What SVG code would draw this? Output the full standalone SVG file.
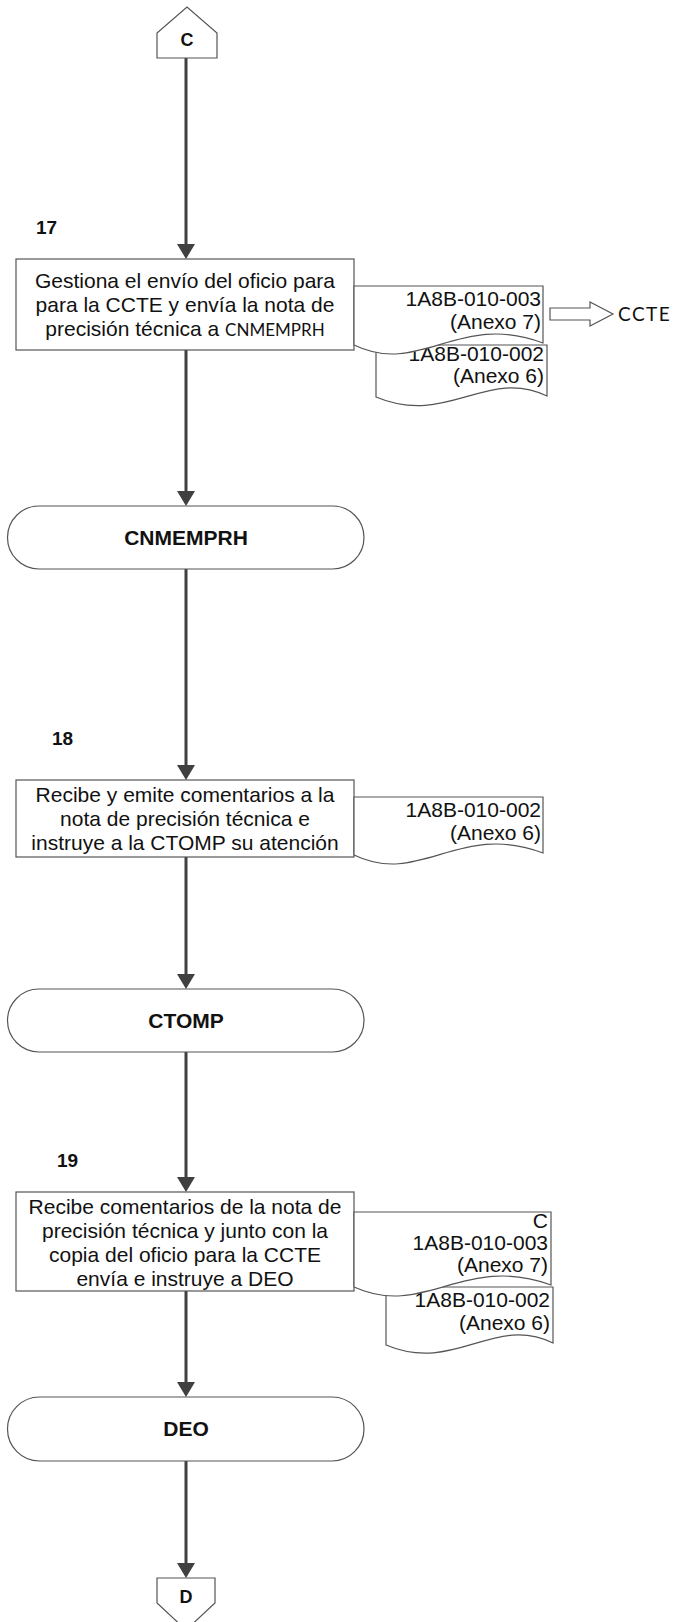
<svg xmlns="http://www.w3.org/2000/svg" width="678" height="1622" viewBox="0 0 678 1622">
  <style>
    .shape { fill: #ffffff; stroke: #555555; stroke-width: 1.2; }
    .flow { fill: none; stroke: #404040; stroke-width: 3; }
    .txt { font-family: "Liberation Sans", Arial, sans-serif; font-size: 21px; fill: #111111; }
    .mid { text-anchor: middle; }
    .end { text-anchor: end; }
    .bold { font-family: "Liberation Sans", Arial, sans-serif; font-weight: bold; font-size: 21px; fill: #111111; }
    .num { font-family: "Liberation Sans", Arial, sans-serif; font-weight: bold; font-size: 19px; fill: #111111; }
    .alt { font-family: Lato, "Open Sans", sans-serif; font-size: 17px; }
  </style>
  <defs>
    <marker id="head" markerUnits="userSpaceOnUse" markerWidth="18" markerHeight="18" refX="12" refY="9" orient="auto">
      <path d="M0,0 L15,9 L0,18 Z" fill="#404040"/>
    </marker>
  </defs>

  <!-- connectors -->
  <g id="connectors">
    <line class="flow" x1="186" y1="58" x2="186" y2="256" marker-end="url(#head)"/>
    <line class="flow" x1="186" y1="350" x2="186" y2="503" marker-end="url(#head)"/>
    <line class="flow" x1="186" y1="569" x2="186" y2="777" marker-end="url(#head)"/>
    <line class="flow" x1="186" y1="857" x2="186" y2="986" marker-end="url(#head)"/>
    <line class="flow" x1="186" y1="1052" x2="186" y2="1189" marker-end="url(#head)"/>
    <line class="flow" x1="186" y1="1291" x2="186" y2="1394" marker-end="url(#head)"/>
    <line class="flow" x1="186" y1="1461" x2="186" y2="1575" marker-end="url(#head)"/>
    <!-- outgoing block arrow to CCTE -->
    <polygon class="shape" points="550,308 590,308 590,302 613,314 590,326 590,320 550,320"/>
  </g>

  <!-- off-page connector C -->
  <g id="conn-c">
    <polygon class="shape" points="157,58 157,33 187,7 217,33 217,58"/>
    <text class="bold mid" x="187" y="46" style="font-size:18px">C</text>
  </g>

  <!-- step 17 -->
  <g id="step17">
    <text class="num" x="36" y="234">17</text>
    <rect class="shape" x="16" y="259" width="338" height="91"/>
    <text class="txt mid" x="185" y="288">Gestiona el envío del oficio para</text>
    <text class="txt mid" x="185" y="312">para la CCTE y envía la nota de</text>
    <text class="txt mid" x="185" y="336">precisión técnica a <tspan class="alt">CNMEMPRH</tspan></text>
  </g>
  <g id="doc17b">
    <path class="shape" d="M376,345 H547 V396 C 487,367 447,427 376,397 Z"/>
    <text class="txt end" x="544" y="361">1A8B-010-002</text>
    <text class="txt end" x="544" y="383">(Anexo 6)</text>
  </g>
  <g id="doc17a">
    <path class="shape" d="M354,286 H543 V343 C 459,311 420,377 354,345 Z"/>
    <text class="txt end" x="541" y="306">1A8B-010-003</text>
    <text class="txt end" x="541" y="329">(Anexo 7)</text>
  </g>
  <g id="dest-ccte">
    <text class="alt" x="618" y="321" style="font-size:19px;letter-spacing:1.5px;fill:#111111">CCTE</text>
  </g>

  <!-- CNMEMPRH -->
  <g id="term-cnmemprh">
    <rect class="shape" x="7.5" y="506" width="356.5" height="63" rx="31.5"/>
    <text class="bold mid" x="186" y="545">CNMEMPRH</text>
  </g>

  <!-- step 18 -->
  <g id="step18">
    <text class="num" x="52" y="745">18</text>
    <rect class="shape" x="16" y="780" width="338" height="77"/>
    <text class="txt mid" x="185" y="802">Recibe y emite comentarios a la</text>
    <text class="txt mid" x="185" y="826">nota de precisión técnica e</text>
    <text class="txt mid" x="185" y="850">instruye a la CTOMP su atención</text>
  </g>
  <g id="doc18">
    <path class="shape" d="M354,797 H543 V853 C 459,821 420,887 354,855 Z"/>
    <text class="txt end" x="541" y="817">1A8B-010-002</text>
    <text class="txt end" x="541" y="840">(Anexo 6)</text>
  </g>

  <!-- CTOMP -->
  <g id="term-ctomp">
    <rect class="shape" x="7.5" y="989" width="356.5" height="63" rx="31.5"/>
    <text class="bold mid" x="186" y="1028">CTOMP</text>
  </g>

  <!-- step 19 -->
  <g id="step19">
    <text class="num" x="57" y="1167">19</text>
    <rect class="shape" x="16" y="1192" width="338" height="99"/>
    <text class="txt mid" x="185" y="1214">Recibe comentarios de la nota de</text>
    <text class="txt mid" x="185" y="1238">precisión técnica y junto con la</text>
    <text class="txt mid" x="185" y="1262">copia del oficio para la CCTE</text>
    <text class="txt mid" x="185" y="1286">envía e instruye a DEO</text>
  </g>
  <g id="doc19b">
    <path class="shape" d="M386,1287 H553 V1343 C 494,1314 455,1374 386,1345 Z"/>
    <text class="txt end" x="550" y="1307">1A8B-010-002</text>
    <text class="txt end" x="550" y="1330">(Anexo 6)</text>
  </g>
  <g id="doc19a">
    <path class="shape" d="M354,1212 H551 V1285 C 464,1253 424,1319 354,1287 Z"/>
    <text class="txt end" x="548" y="1228">C</text>
    <text class="txt end" x="548" y="1250">1A8B-010-003</text>
    <text class="txt end" x="548" y="1272">(Anexo 7)</text>
  </g>

  <!-- DEO -->
  <g id="term-deo">
    <rect class="shape" x="7.5" y="1397" width="356.5" height="64" rx="32"/>
    <text class="bold mid" x="186" y="1436">DEO</text>
  </g>

  <!-- off-page connector D -->
  <g id="conn-d">
    <polygon class="shape" points="157,1578 215,1578 215,1603 186,1630 157,1603"/>
    <text class="bold mid" x="186" y="1603" style="font-size:18px">D</text>
  </g>
</svg>
